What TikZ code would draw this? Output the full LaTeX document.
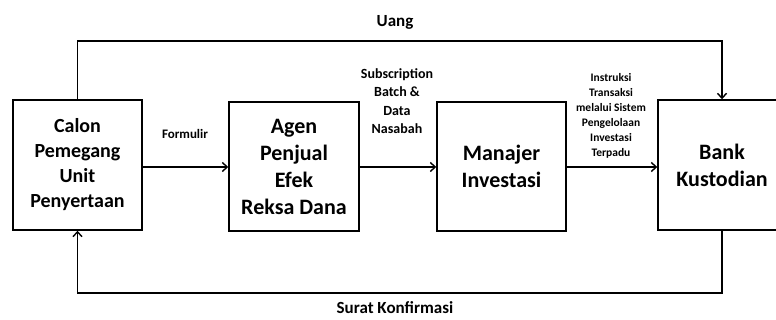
\documentclass[tikz,border=0pt]{standalone}
\usepackage{fontspec}
\setmainfont{Carlito}
\usetikzlibrary{arrows.meta}

\tikzset{
    party/.style={draw, line width=1.4pt, align=center, font=\bfseries\fontsize{20}{25}\selectfont, inner sep=0pt},
    bigparty/.style={party, font=\bfseries\fontsize{22}{27}\selectfont},
    flow/.style={line width=1.4pt, -{Straight Barb[length=5pt,width=9pt]}},
    flowlabel/.style 2 args={align=center, font=\bfseries\fontsize{#1}{#2}\selectfont, inner sep=0pt}
}

\begin{document}
\begin{tikzpicture}[x=1pt, y=-1pt]

\useasboundingbox (0,0) rectangle (776,320);

% the four parties
\node [party, minimum width=129pt, minimum height=130pt] (calon) at (77.5,165) {Calon\\Pemegang\\Unit\\Penyertaan};
\node [bigparty, minimum width=130pt, minimum height=129pt] (agen) at (294,166.5) {Agen\\Penjual\\Efek\\Reksa Dana};
\node [bigparty, minimum width=129pt, minimum height=129pt] (manajer) at (501.5,166.5) {Manajer\\Investasi};
\node [bigparty, minimum width=128pt, minimum height=130pt] (bank) at (722,165) {Bank\\Kustodian};

% corners of the outer loops
\coordinate (atas) at (400,41);
\coordinate (bawah) at (400,293);

\draw [flow] (calon.east |- 0,167) -- (agen.west |- 0,167);
\draw [flow] (agen.east |- 0,167) -- (manajer.west |- 0,167);
\draw [flow] (manajer.east |- 0,167) -- (bank.west |- 0,167);
\draw [flow] (calon.north) |- (atas) -| (bank.north);
\draw [flow] (bank.south) |- (bawah) -| (calon.south);

% labels
\node [flowlabel={17}{20}] (uang) at (395,22) {Uang};
\node [flowlabel={17}{20}] (surat) at (395,308) {Surat Konfirmasi};
\node [flowlabel={13}{16}] (formulir) at (185,134) {Formulir};
\node [flowlabel={14}{18.5}] (subscription) at (397,101) {Subscription\\Batch \&\\Data\\Nasabah};
\node [flowlabel={11.5}{15}] (instruksi) at (611,116) {Instruksi\\Transaksi\\melalui Sistem\\Pengelolaan\\Investasi\\Terpadu};

\end{tikzpicture}
\end{document}
